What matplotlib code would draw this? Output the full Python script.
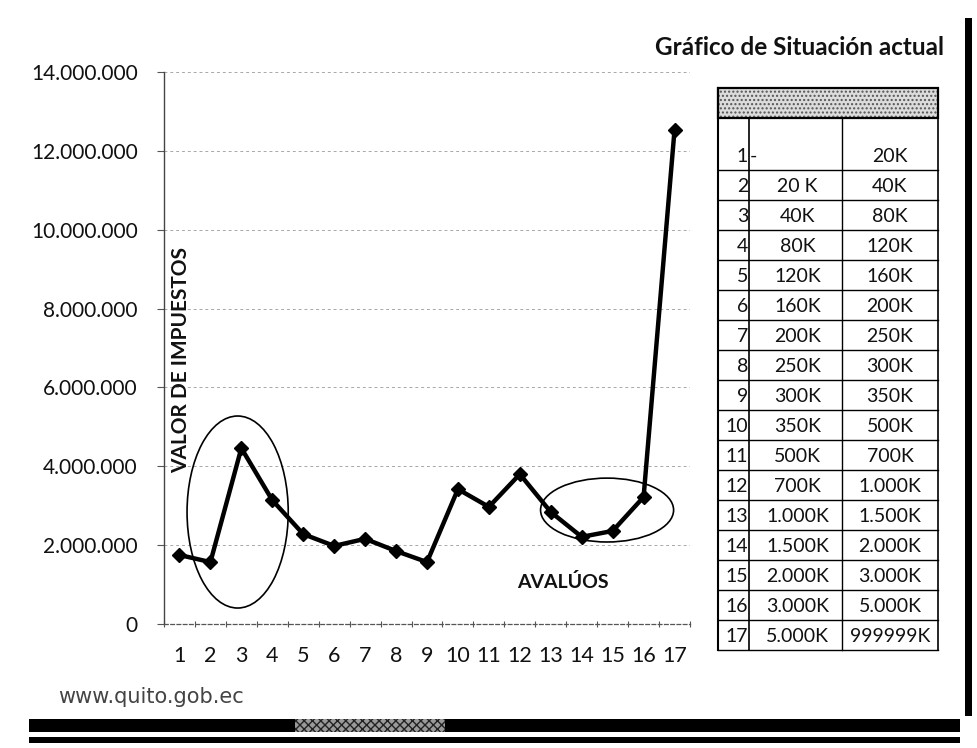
import matplotlib
matplotlib.use("Agg")
import matplotlib.pyplot as plt
from matplotlib.patches import Ellipse, Rectangle
from matplotlib.ticker import FixedLocator

# ---------------- data ----------------
categories = list(range(1, 18))
tax_values = [1.75e6, 1.57e6, 4.46e6, 3.14e6, 2.28e6, 1.98e6, 2.16e6, 1.85e6,
              1.57e6, 3.42e6, 2.97e6, 3.80e6, 2.84e6, 2.21e6, 2.36e6, 3.22e6,
              12.53e6]
y_ticks = [0, 2e6, 4e6, 6e6, 8e6, 10e6, 12e6, 14e6]
y_tick_labels = ["0", "2.000.000", "4.000.000", "6.000.000", "8.000.000",
                 "10.000.000", "12.000.000", "14.000.000"]
range_index = [str(i) for i in range(1, 18)]
range_from = ["-", "20 K", "40K", "80K", "120K", "160K", "200K", "250K", "300K",
              "350K", "500K", "700K", "1.000K", "1.500K", "2.000K", "3.000K",
              "5.000K"]
range_to = ["20K", "40K", "80K", "120K", "160K", "200K", "250K", "300K", "350K",
            "500K", "700K", "1.000K", "1.500K", "2.000K", "3.000K", "5.000K",
            "999999K"]

title_text = "Gráfico de Situación actual"
ylabel_text = "VALOR DE IMPUESTOS"
xlabel_text = "AVALÚOS"
footer_text = "www.quito.gob.ec"

# ---------------- figure ----------------
W, H = 977, 748
fig = plt.figure(figsize=(W / 100, H / 100), dpi=100)
fig.patch.set_facecolor("white")
FONT = "Lato"

ax_l, ax_r, ax_t, ax_b = 164, 690, 72, 624
ax = fig.add_axes([ax_l / W, 1 - ax_b / H, (ax_r - ax_l) / W, (ax_b - ax_t) / H])
ax.set_facecolor("none")

ax.plot(categories, tax_values, color="black", lw=3.2, marker="D", ms=7.5,
        zorder=4, solid_joinstyle="miter")
ax.set_xlim(0.5, 17.5)
ax.set_ylim(0, 14e6)

ax.set_yticks(y_ticks)
ax.set_yticklabels(y_tick_labels, fontsize=15, family=FONT, color="#111111")
ax.set_xticks(categories)
ax.set_xticklabels([str(c) for c in categories], fontsize=15.5, family=FONT,
                   color="#111111")
ax.tick_params(axis="x", which="major", length=0, pad=16)
ax.xaxis.set_minor_locator(FixedLocator([c + 0.5 for c in [0] + categories]))
ax.tick_params(axis="x", which="minor", length=4, width=0.8, color="#555555",
               direction="inout")
ax.tick_params(axis="y", which="major", length=5, width=0.8, color="#555555",
               pad=14)

ax.yaxis.grid(True, color="#a8a8a8", ls=(0, (3, 3)), lw=0.7)
ax.set_axisbelow(True)
for s in ["top", "right"]:
    ax.spines[s].set_visible(False)
ax.spines["left"].set_color("#444444")
ax.spines["left"].set_linestyle((0, (4, 1)))
ax.spines["left"].set_linewidth(1.0)
ax.spines["bottom"].set_color("#555555")
ax.spines["bottom"].set_linestyle((0, (3, 2)))
ax.spines["bottom"].set_linewidth(0.9)

# annotation ellipses
ax.add_patch(Ellipse((2.88, 2.84e6), 3.27, 4.87e6, fill=False, ec="black",
                     lw=1.2, zorder=3))
ax.add_patch(Ellipse((14.82, 2.89e6), 4.30, 1.62e6, fill=False, ec="black",
                     lw=1.2, zorder=3))

# ---------------- overlay in pixel coordinates ----------------
ov = fig.add_axes([0, 0, 1, 1])
ov.set_xlim(0, W)
ov.set_ylim(H, 0)
ov.axis("off")
ov.set_facecolor("none")

ov.text(181, 360, ylabel_text, rotation=90, ha="center", va="center",
        fontsize=15, fontweight="bold", family=FONT, color="#111111")
ov.text(563, 582, xlabel_text, ha="center", va="center", fontsize=14,
        fontweight="bold", family=FONT, color="#111111")
ov.text(944, 47, title_text, ha="right", va="center", fontsize=17.5,
        fontweight="bold", family=FONT, color="#111111")
ov.text(58, 697, footer_text, ha="left", va="center", fontsize=15,
        family=["Liberation Sans Narrow", "DejaVu Sans"], color="#444444")

# table
t_l, t_d1, t_d2, t_r = 718, 749, 842, 938
t_top, t_hb, r1_b, row_h = 88, 118, 170, 30
n = len(range_index)
row_bottoms = [r1_b + k * row_h for k in range(n)]
t_bot = row_bottoms[-1]
ov.add_patch(Rectangle((t_l, t_top), t_r - t_l, t_hb - t_top, fc="#dcdcdc",
                       ec="#555555", lw=0, hatch="....", zorder=2))
ov.add_patch(Rectangle((t_l, t_top), t_r - t_l, t_hb - t_top, fill=False,
                       ec="black", lw=1.6, zorder=3))
ov.plot([t_l, t_l], [t_top, t_bot], color="black", lw=1.5)
ov.plot([t_r, t_r], [t_top, t_bot], color="black", lw=1.2)
ov.plot([t_d1, t_d1], [t_hb, t_bot], color="black", lw=1.2)
ov.plot([t_d2, t_d2], [t_hb, t_bot], color="black", lw=1.0)
for yb in row_bottoms:
    ov.plot([t_l, t_r], [yb, yb], color="black", lw=1.0)
TFS = 14
for k in range(n):
    yc = row_bottoms[k] - 14
    ov.text(t_d1 - 1, yc, range_index[k], ha="right", va="center",
            fontsize=TFS, family=FONT, color="#111111")
    if range_from[k] == "-":
        ov.text(t_d1 + 1, yc, range_from[k], ha="left", va="center",
                fontsize=TFS, family=FONT, color="#111111")
    else:
        ov.text((t_d1 + t_d2) / 2 + 2, yc, range_from[k], ha="center",
                va="center", fontsize=TFS, family=FONT, color="#111111")
    ov.text((t_d2 + t_r) / 2, yc, range_to[k], ha="center", va="center",
            fontsize=TFS, family=FONT, color="#111111")

# page decorations (scan frame)
ov.add_patch(Rectangle((29, 719), 931, 13, fc="black", ec="none"))
ov.add_patch(Rectangle((295, 719), 150, 13, fc="#9a9a9a", ec="#222222",
                       lw=0, hatch="xxxx"))
ov.add_patch(Rectangle((29, 737), 931, 6, fc="black", ec="none"))
ov.add_patch(Rectangle((965, 18), 7, 698, fc="black", ec="none"))

fig.savefig("out.png", dpi=100, facecolor="white")
